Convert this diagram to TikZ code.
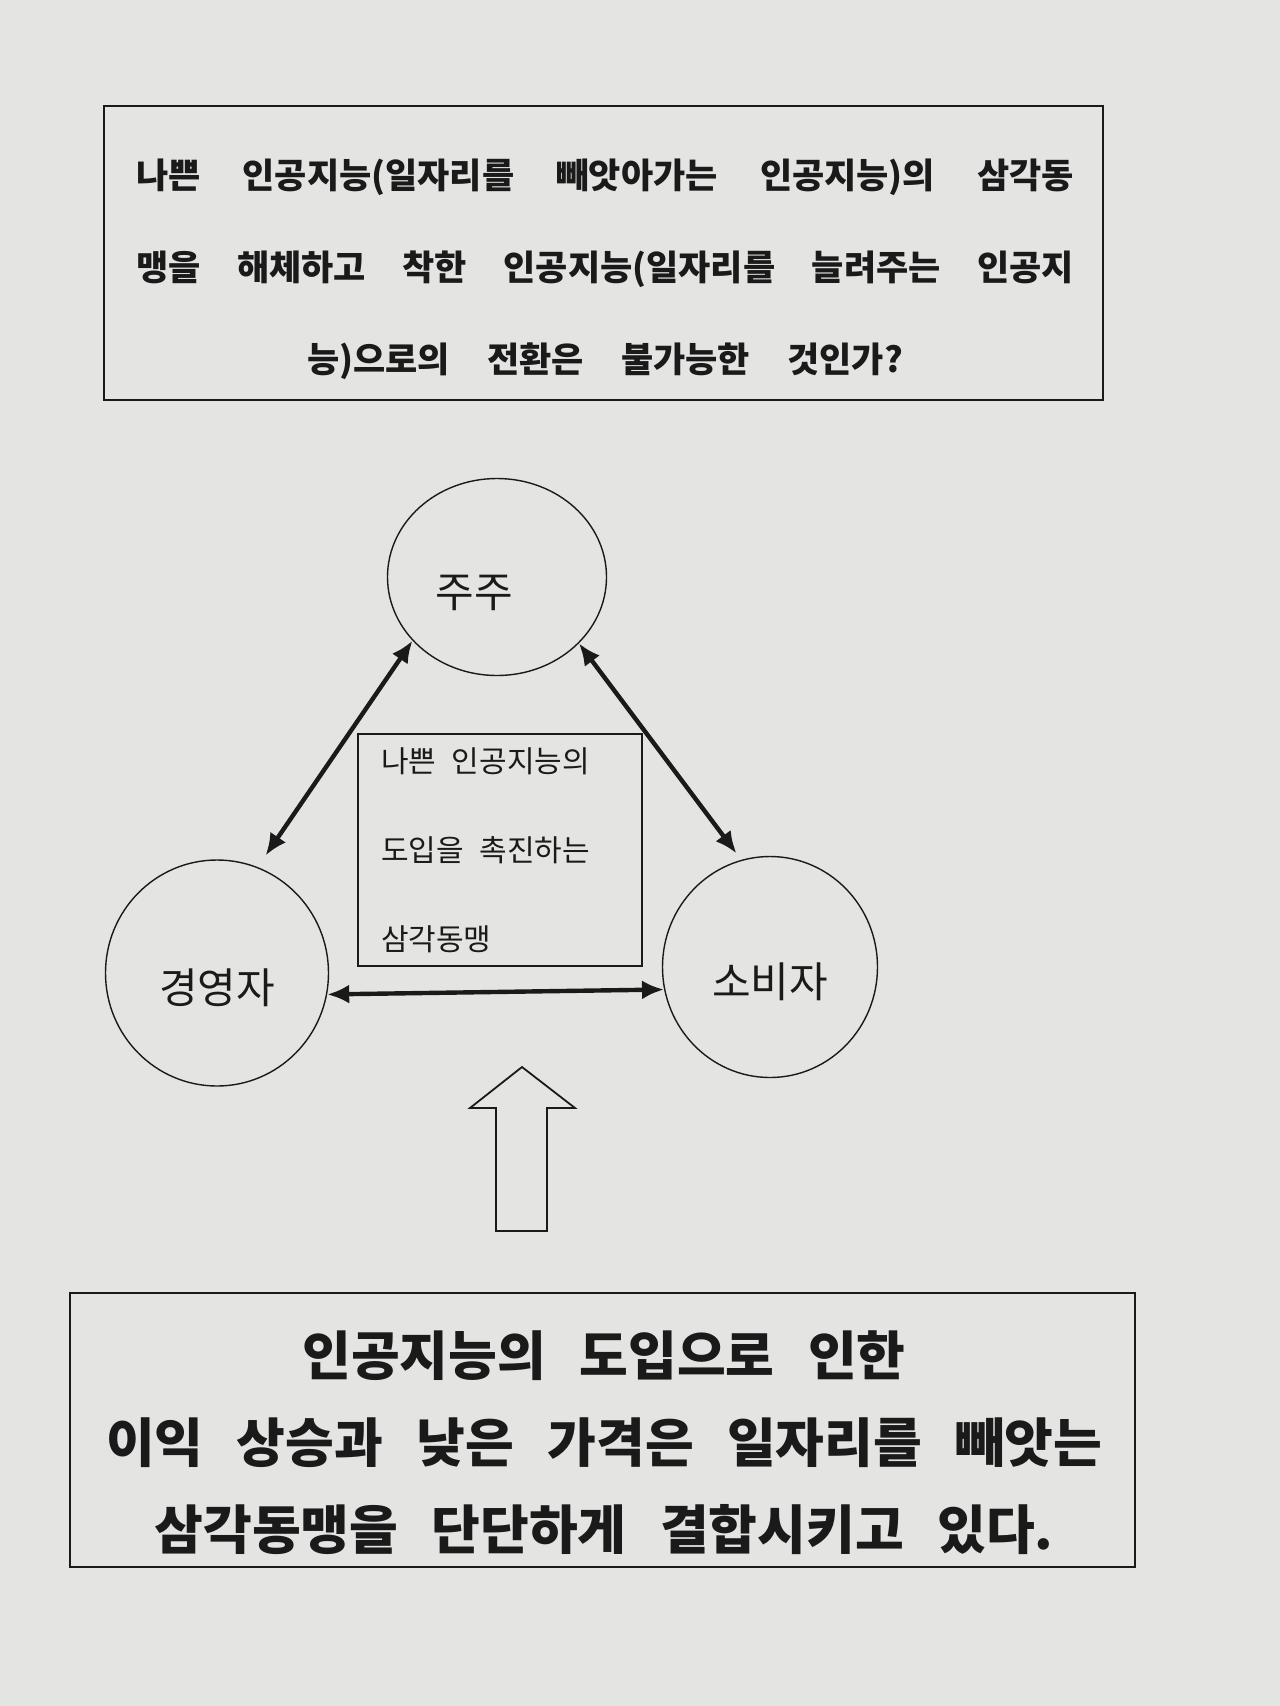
\documentclass[tikz,border=0pt]{standalone}
\usepackage{fontspec}
\setmainfont{Noto Sans CJK KR}
\definecolor{mPaper}{HTML}{E4E4E2}
\definecolor{mInk}{HTML}{1A1A1A}
\newcommand\wordgap[1]{\spaceskip=#1\relax}
\usetikzlibrary{arrows.meta,shapes.geometric}

\begin{document}
\begin{tikzpicture}[x=1pt, y=-1pt,
    frame/.style={draw=mInk, line width=1.8pt},
    party/.style={ellipse, draw=mInk, line width=1.4pt, inner sep=0pt, text=mInk,
      font=\fontsize{42}{46}\selectfont, text height=60pt, text depth=0pt},
    link/.style={{Latex[length=22pt,width=19pt]}-{Latex[length=22pt,width=19pt]},
      line width=4.4pt, draw=mInk}]
  \fill[mPaper] (0,0) rectangle (1280,1706);
  \draw[frame] (104,106) rectangle (1103,400);
  \node[text=mInk, align=center, font=\bfseries\fontsize{35}{92}\selectfont]
    (question) at (605,269)
    {\wordgap{0.9em plus 1em}\makebox[938pt][s]{나쁜 인공지능(일자리를 빼앗아가는 인공지능)의 삼각동}\\
     \wordgap{0.9em plus 1em}\makebox[938pt][s]{맹을 해체하고 착한 인공지능(일자리를 늘려주는 인공지}\\
     \wordgap{1.07em}능)으로의 전환은 불가능한 것인가?};
  \node[party, minimum width=219pt, minimum height=197pt] (holder) at (497,577) {주주\hspace*{46pt}};
  \node[party, minimum width=223pt, minimum height=226pt] (ceo) at (217,973) {경영자};
  \node[party, minimum width=215pt, minimum height=221pt] (buyer) at (770,967) {소비자};
  \node[frame, text=mInk, align=left, text width=238pt, minimum height=232pt,
    inner xsep=23pt, font=\fontsize{30}{89}\selectfont]
    (pact) at (500,850)
    {\wordgap{0.52em}나쁜 인공지능의\\\wordgap{0.52em}도입을 촉진하는\\삼각동맹};
  \draw[link, shorten <=14pt] (ceo.69) -- (holder.217);
  \draw[link, shorten >=8pt] (holder.-39) -- (buyer.105);
  \draw[link] (ceo.-11) -- (buyer.-168);
  \draw[frame] (496,1231) -- (496,1108) -- (470,1108) -- (522,1067)
    -- (575,1108) -- (547,1108) -- (547,1231) -- cycle;
  \draw[frame] (70,1293) rectangle (1135,1567);
  \node[text=mInk, align=center, font=\bfseries\fontsize{53}{87}\selectfont]
    (result) at (604,1443)
    {\wordgap{0.63em}인공지능의 도입으로 인한\\
     \wordgap{0.63em}이익 상승과 낮은 가격은 일자리를 빼앗는\\
     \wordgap{0.63em}삼각동맹을 단단하게 결합시키고 있다.};
\end{tikzpicture}
\end{document}
